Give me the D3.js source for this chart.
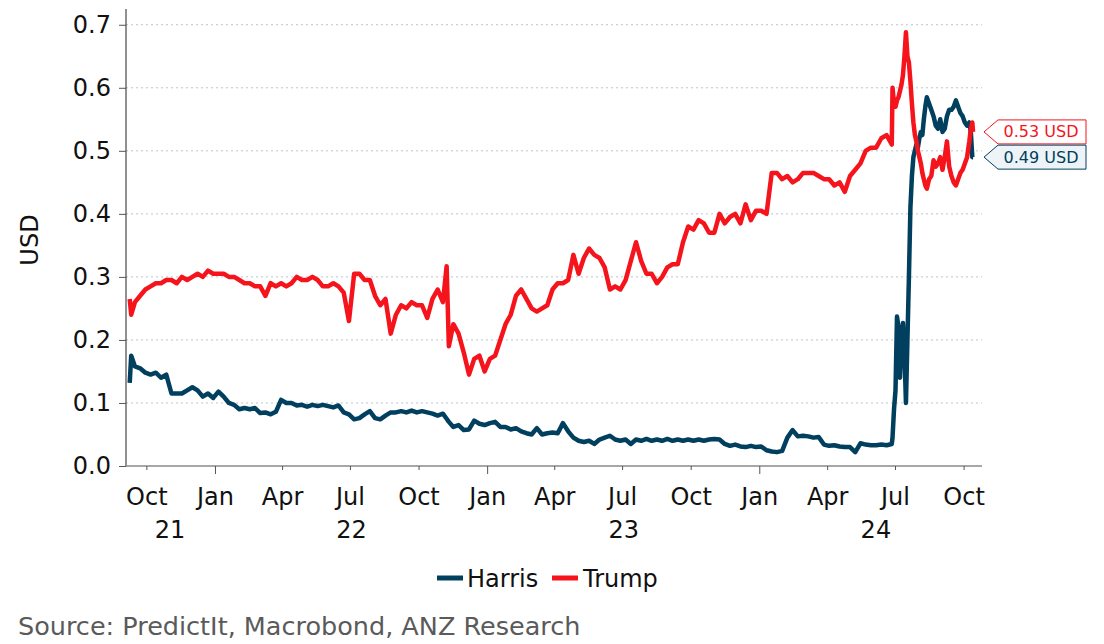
<!DOCTYPE html>
<html>
<head>
<meta charset="utf-8">
<script src="https://cdn.jsdelivr.net/npm/d3@7"></script>
<style>
  html, body { margin: 0; padding: 0; background: #ffffff; }
  svg { display: block; font-family: "DejaVu Sans", Verdana, sans-serif; }
</style>
</head>
<body>
<svg id="chart" width="1104" height="644"></svg>
<script>
const dates = [
"2021-09-08","2021-09-10","2021-09-15","2021-09-22","2021-09-29","2021-10-06","2021-10-13","2021-10-20","2021-10-27",
"2021-11-03","2021-11-10","2021-11-17","2021-11-24","2021-12-01","2021-12-08","2021-12-15","2021-12-22","2021-12-29",
"2022-01-05","2022-01-12","2022-01-19","2022-01-26","2022-02-02","2022-02-09","2022-02-16","2022-02-23","2022-03-02",
"2022-03-09","2022-03-16","2022-03-23","2022-03-30","2022-04-06","2022-04-13","2022-04-20","2022-04-27","2022-05-04",
"2022-05-11","2022-05-18","2022-05-25","2022-06-01","2022-06-08","2022-06-15","2022-06-22","2022-06-29","2022-07-06",
"2022-07-13","2022-07-20","2022-07-27","2022-08-03","2022-08-10","2022-08-17","2022-08-24","2022-08-31","2022-09-07",
"2022-09-14","2022-09-21","2022-09-28","2022-10-05","2022-10-12","2022-10-19","2022-10-26","2022-11-02","2022-11-07",
"2022-11-10","2022-11-16","2022-11-23","2022-11-30","2022-12-07","2022-12-14","2022-12-21","2022-12-28","2023-01-04",
"2023-01-11","2023-01-18","2023-01-25","2023-02-01","2023-02-08","2023-02-15","2023-02-22","2023-03-01","2023-03-08",
"2023-03-15","2023-03-22","2023-03-29","2023-04-05","2023-04-12","2023-04-19","2023-04-26","2023-05-03","2023-05-10",
"2023-05-17","2023-05-24","2023-05-31","2023-06-07","2023-06-14","2023-06-21","2023-06-28","2023-07-05","2023-07-12",
"2023-07-19","2023-07-26","2023-08-02","2023-08-09","2023-08-16","2023-08-23","2023-08-30","2023-09-06","2023-09-13",
"2023-09-20","2023-09-27","2023-10-04","2023-10-11","2023-10-18","2023-10-25","2023-11-01","2023-11-08","2023-11-15",
"2023-11-22","2023-11-29","2023-12-06","2023-12-13","2023-12-20","2023-12-27","2024-01-03","2024-01-10","2024-01-17",
"2024-01-24","2024-01-31","2024-02-07","2024-02-14","2024-02-21","2024-02-28","2024-03-06","2024-03-13","2024-03-20",
"2024-03-27","2024-04-03","2024-04-10","2024-04-17","2024-04-24","2024-05-01","2024-05-08","2024-05-15","2024-05-22",
"2024-05-29","2024-06-05","2024-06-12","2024-06-19","2024-06-26","2024-06-27","2024-06-29","2024-07-01","2024-07-03",
"2024-07-05","2024-07-07","2024-07-09","2024-07-11","2024-07-13","2024-07-15","2024-07-17","2024-07-19","2024-07-21",
"2024-07-23","2024-07-25","2024-07-27","2024-07-29","2024-07-31","2024-08-02","2024-08-04","2024-08-06","2024-08-08",
"2024-08-10","2024-08-12","2024-08-15","2024-08-18","2024-08-21","2024-08-24","2024-08-27","2024-08-30","2024-09-02",
"2024-09-05","2024-09-08","2024-09-11","2024-09-14","2024-09-17","2024-09-20","2024-09-23","2024-09-26","2024-09-29",
"2024-10-02","2024-10-05","2024-10-08","2024-10-10","2024-10-12","2024-10-13"
];

const trump = [
0.265,0.24,0.26,0.27,0.28,0.285,0.29,0.29,0.295,
0.295,0.29,0.3,0.295,0.3,0.305,0.3,0.31,0.305,
0.305,0.305,0.3,0.3,0.295,0.29,0.29,0.285,0.285,
0.27,0.29,0.285,0.29,0.285,0.29,0.3,0.295,0.295,
0.3,0.295,0.285,0.285,0.29,0.285,0.275,0.23,0.305,
0.305,0.295,0.295,0.27,0.255,0.265,0.21,0.24,0.255,
0.25,0.26,0.255,0.255,0.235,0.265,0.28,0.26,0.317,
0.19,0.225,0.21,0.18,0.145,0.17,0.175,0.15,0.17,
0.175,0.2,0.225,0.24,0.27,0.28,0.265,0.25,0.245,
0.25,0.255,0.28,0.29,0.29,0.295,0.335,0.305,0.33,
0.345,0.335,0.33,0.315,0.28,0.285,0.28,0.295,0.325,
0.355,0.325,0.305,0.305,0.29,0.3,0.315,0.32,0.32,
0.355,0.38,0.375,0.39,0.385,0.37,0.37,0.4,0.385,
0.395,0.4,0.385,0.415,0.39,0.405,0.405,0.4,0.465,
0.465,0.455,0.46,0.45,0.455,0.465,0.465,0.465,0.46,
0.455,0.455,0.445,0.45,0.435,0.46,0.47,0.48,0.5,
0.505,0.505,0.52,0.525,0.51,0.6,0.575,0.57,0.58,
0.585,0.595,0.605,0.62,0.65,0.688,0.65,0.64,0.61,
0.575,0.545,0.525,0.515,0.5,0.49,0.48,0.465,0.455,
0.445,0.44,0.455,0.46,0.485,0.475,0.48,0.49,0.47,
0.49,0.515,0.475,0.46,0.45,0.445,0.455,0.465,0.47,
0.48,0.49,0.515,0.535,0.545,0.53
];

const harris = [
0.132,0.175,0.158,0.155,0.148,0.145,0.148,0.14,0.145,
0.115,0.115,0.115,0.12,0.125,0.12,0.11,0.115,0.108,
0.118,0.11,0.1,0.097,0.09,0.092,0.09,0.092,0.084,
0.085,0.082,0.086,0.105,0.1,0.1,0.096,0.097,0.094,
0.097,0.095,0.097,0.095,0.093,0.096,0.085,0.082,0.074,
0.076,0.082,0.087,0.076,0.074,0.08,0.085,0.085,0.087,
0.085,0.088,0.085,0.087,0.085,0.083,0.08,0.083,0.075,
0.07,0.062,0.065,0.057,0.058,0.072,0.067,0.065,0.068,
0.07,0.062,0.062,0.058,0.06,0.055,0.052,0.05,0.06,
0.05,0.052,0.053,0.052,0.068,0.055,0.045,0.04,0.038,
0.04,0.035,0.042,0.045,0.048,0.042,0.04,0.042,0.035,
0.042,0.04,0.043,0.04,0.042,0.04,0.043,0.04,0.042,
0.04,0.042,0.04,0.042,0.04,0.042,0.043,0.042,0.035,
0.032,0.034,0.031,0.03,0.032,0.03,0.031,0.025,0.023,
0.022,0.024,0.045,0.057,0.047,0.048,0.047,0.045,0.046,
0.034,0.032,0.033,0.031,0.03,0.03,0.022,0.036,0.034,
0.033,0.033,0.034,0.033,0.035,0.045,0.09,0.12,0.237,
0.22,0.14,0.2,0.227,0.18,0.1,0.2,0.3,0.41,
0.46,0.49,0.5,0.51,0.505,0.52,0.53,0.525,0.55,
0.57,0.585,0.575,0.565,0.555,0.54,0.535,0.55,0.53,
0.535,0.555,0.565,0.565,0.57,0.58,0.57,0.56,0.555,
0.545,0.54,0.545,0.53,0.49,0.49
];

const seriesNames = ["Harris", "Trump"];
const seriesColors = ["#003f5e", "#f5141c"];
const yTicks = [0, 0.1, 0.2, 0.3, 0.4, 0.5, 0.6, 0.7];
const monthLabels = { 0: "Jan", 3: "Apr", 6: "Jul", 9: "Oct" };
const yearLabels = ["21", "22", "23", "24"];
const yAxisTitle = "USD";
const sourceText = "Source: PredictIt, Macrobond, ANZ Research";
const unit = "USD";

(function () {
const parse = d3.utcParse("%Y-%m-%d");
const dateObjs = dates.map(parse);
const seriesData = [harris, trump].map((vals, k) => ({
  name: seriesNames[k], color: seriesColors[k],
  points: vals.map((v, i) => ({ date: dateObjs[i], value: v }))
}));

const svg = d3.select("#chart");
const pLeft = 126, pRight = 982, pTop = 9, pBottom = 466;

const x = d3.scaleUtc()
  .domain([new Date(Date.UTC(2021, 8, 1)), new Date(Date.UTC(2024, 9, 25))])
  .range([124.5, pRight]);
const y = d3.scaleLinear().domain([0, 0.725]).range([pBottom, pTop]);

// gridlines
svg.append("g").selectAll("line")
  .data(yTicks.filter(t => t > 0))
  .join("line")
  .attr("x1", pLeft).attr("x2", pRight)
  .attr("y1", d => y(d)).attr("y2", d => y(d))
  .attr("stroke", "#b9c6d2").attr("stroke-width", 1)
  .attr("stroke-dasharray", "2,3");

// y axis
const yAxis = svg.append("g").attr("transform", `translate(${pLeft},0)`)
  .call(d3.axisLeft(y).tickValues(yTicks).tickFormat(d3.format(".1f")).tickSize(7).tickPadding(8));
yAxis.select(".domain").attr("stroke", "#222").attr("d", `M0,${pTop}V${pBottom}`);
yAxis.selectAll(".tick line").attr("stroke", "#555");
yAxis.selectAll("text").attr("font-size", 24).attr("fill", "#111")
  .attr("font-family", "DejaVu Sans");

// x axis
const qTicks = d3.utcMonth.every(3).range(x.domain()[0], x.domain()[1]);
const xg = svg.append("g");
xg.append("line").attr("x1", pLeft).attr("x2", pRight).attr("y1", pBottom).attr("y2", pBottom)
  .attr("stroke", "#8a8a8a").attr("stroke-width", 1.5);
xg.selectAll("line.tick").data(qTicks).join("line").attr("class", "tick")
  .attr("x1", d => x(d)).attr("x2", d => x(d))
  .attr("y1", pBottom).attr("y2", d => pBottom + (d.getUTCMonth() === 0 ? 8 : 4))
  .attr("stroke", "#555");
xg.selectAll("text.month").data(qTicks).join("text").attr("class", "month")
  .attr("x", d => x(d)).attr("y", 505)
  .attr("text-anchor", "middle").attr("font-size", 24).attr("fill", "#111")
  .text(d => monthLabels[d.getUTCMonth()]);
const years = [2021, 2022, 2023, 2024];
xg.selectAll("text.year").data(years).join("text").attr("class", "year")
  .attr("x", (yr) => {
    const s = Math.max(x(new Date(Date.UTC(yr, 0, 1))), x.range()[0]);
    const e = Math.min(x(new Date(Date.UTC(yr + 1, 0, 1))), x.range()[1] + 10);
    return (s + e) / 2;
  })
  .attr("y", 538).attr("text-anchor", "middle").attr("font-size", 24).attr("fill", "#111")
  .text((d, i) => yearLabels[i]);

// y title
svg.append("text").attr("transform", "translate(38,240) rotate(-90)")
  .attr("text-anchor", "middle").attr("font-size", 24).attr("fill", "#111").text(yAxisTitle);

// lines
const line = d3.line().x(d => x(d.date)).y(d => y(d.value)).curve(d3.curveLinear);
svg.append("g").selectAll("path").data(seriesData).join("path")
  .attr("d", d => line(d.points)).attr("fill", "none")
  .attr("stroke", d => d.color).attr("stroke-width", 4.5)
  .attr("stroke-linejoin", "round").attr("stroke-linecap", "butt");

// end labels
const fmt = d3.format(".2f");
const labelFills = ["#eef3f7", "#ffffff"];
const lab = svg.append("g");
seriesData.slice().reverse().forEach((s) => {
  const last = s.points[s.points.length - 1];
  const ty = y(last.value);
  const tipX = 984, bx = 998, bw = 88, h = 24;
  const yt = ty - h / 2, yb = ty + h / 2;
  const k = seriesNames.indexOf(s.name);
  lab.append("path")
    .attr("d", `M${tipX},${ty}L${bx},${yt}H${bx + bw}V${yb}H${bx}Z`)
    .attr("fill", labelFills[k]).attr("stroke", s.color).attr("stroke-width", 1);
  lab.append("text").attr("x", bx + bw / 2 - 1).attr("y", ty + 5.5)
    .attr("text-anchor", "middle").attr("font-size", 16).attr("fill", s.color)
    .text(`${fmt(last.value)} ${unit}`);
});

// legend
const legend = svg.append("g");
const legendItems = [{ x: 437, tx: 467 }, { x: 552, tx: 583 }];
seriesData.forEach((s, i) => {
  legend.append("line").attr("x1", legendItems[i].x).attr("x2", legendItems[i].x + 26)
    .attr("y1", 578).attr("y2", 578).attr("stroke", s.color).attr("stroke-width", 5);
  legend.append("text").attr("x", legendItems[i].tx).attr("y", 587)
    .attr("font-size", 24).attr("fill", "#111").text(s.name);
});

// source
svg.append("text").attr("x", 18).attr("y", 635).attr("font-size", 25.5)
  .attr("fill", "#5a5a5a").text(sourceText);
})();
</script>
</body>
</html>
